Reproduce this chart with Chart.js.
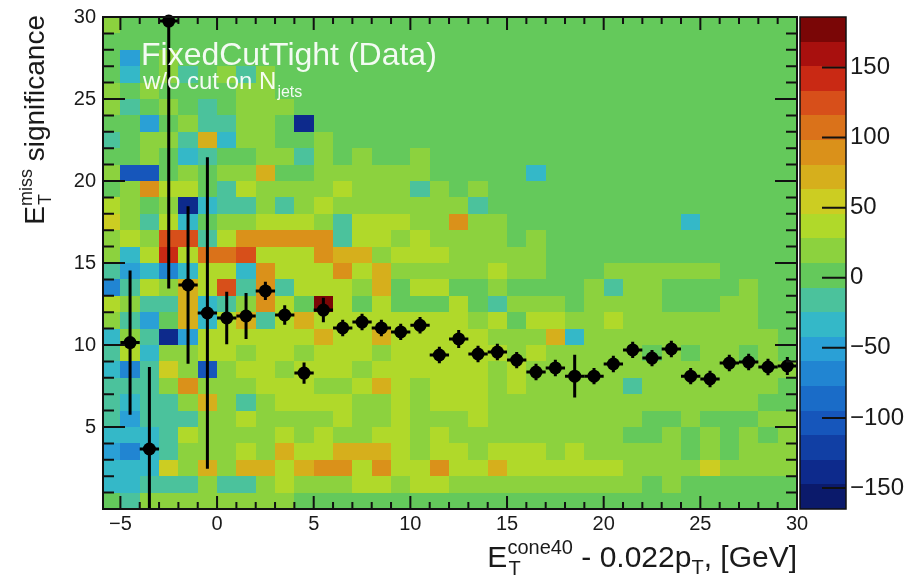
<!DOCTYPE html>
<html>
<head>
<meta charset="utf-8">
<script src="https://cdn.jsdelivr.net/npm/chart.js"></script>
<style>
  html, body { margin: 0; padding: 0; background: #fff; }
  canvas { display: block; }
</style>
</head>
<body>
<canvas id="isoChart" width="915" height="581"></canvas>
<script>
// 2D histogram, 1 GeV x-bins from -6 to 30, unit y-bins from 0 to 30
const xBinLow = -6;
const yBinHigh = 30;

// colour code per cell, top row (y 29-30) first, one char per x bin (| only for reading)
const cellRows = [
  'g.........|..........|................',
  '..........|..........|................',
  '.C.g......|..........|................',
  '.c.gt.gtg.|..........|................',
  'g.g....gg.|..........|................',
  'gt.g.t.ggg|..........|................',
  '..C.gttgg.|n.........|................',
  't.ggtocgg.|.g........|................',
  '..g.ct..gg|tg.g..g...|................',
  'gBB.g.ggo.|.gggggg...|..c.............',
  '.gOyy.tygg|ggygggtg.g|................',
  'yg.gncttgt|gygggggggt|................',
  'Ygtyc.ggyy|ygtyyyggOg|g.........c.....',
  'gygRRtyOOO|OOtyygyggg|g.g.............',
  'gcyDyrrRyy|yOoogyyygg|ggg.............',
  'tCcbcyycOy|yyOyoggggg|ygg...gggggg....',
  'btygoyRtOt|yyygo.yy..|g....gtgg....g..',
  'ygttoctgOy|.My.y...y.|tggg.gggg...gg..',
  'gtC.ocyoty|oyyyyyyyyg|y.yyggyggggggg..',
  'cgtnCyyyyy|yoyyoyyyyy|gggocgggggggggg.',
  'tycggyygyy|gyyygyyyyy|ygyggggg.g.gg.g.',
  'cbtYgBgyyg|yyygyyyyyy|gygggggggggggggg',
  'tttgOgggyy|yggyoygyyy|gygggggtggggggg.',
  'tcttgogtgy|yyyggygyyy|gggggggggggggg..',
  'tCtttggygg|ggyggygggy|gggggggg..g...gg',
  'ccctyggggy|gyggyygygg|ggggggg..g.g.g.g',
  'Cbctgggygo|yyoooygyyg|yyygyggggg.g.ggg',
  'cccYgogooy|oOOyOyyOyy|oyyyyyyggggYgggg',
  'cctttgttgy|gggyygyygg|gggggggg.g......',
  '.tgggggggg|..........|................'
];
// code -> z value (middle of the colour band)
const cellValue = {
  n: -139, B: -104, b: -69, C: -51, c: -34, t: -16, '.': 1,
  g: 19, y: 36, Y: 54, o: 71, O: 89, r: 106, R: 124, D: 141, M: 176
};

// profile (black points)
const profX = [-4.5, -3.5, -2.5, -1.5, -0.5, 0.5, 1.5, 2.5, 3.5, 4.5, 5.5, 6.5, 7.5, 8.5, 9.5, 10.5, 11.5,
  12.5, 13.5, 14.5, 15.5, 16.5, 17.5, 18.5, 19.5, 20.5, 21.5, 22.5, 23.5, 24.5, 25.5, 26.5, 27.5, 28.5, 29.5];
const profY = [10.15, 3.66, 29.75, 13.66, 11.95, 11.65, 11.77, 13.3, 11.83, 8.29, 12.13, 11.04, 11.4, 11.04, 10.8, 11.2, 9.39,
  10.37, 9.45, 9.57, 9.08, 8.35, 8.6, 8.1, 8.1, 8.84, 9.7, 9.2, 9.76, 8.1, 7.93, 8.9, 8.96, 8.66, 8.72];
const profErr = [4.4, 5.0, 16.3, 4.8, 9.5, 1.6, 1.4, 0.55, 0.6, 0.65, 0.75, 0.5, 0.5, 0.5, 0.5, 0.5, 0.5,
  0.55, 0.5, 0.5, 0.5, 0.5, 0.5, 1.3, 0.5, 0.5, 0.5, 0.5, 0.5, 0.5, 0.5, 0.5, 0.5, 0.5, 0.55];

const xTicks = [-5, 0, 5, 10, 15, 20, 25, 30];
const yTicks = [5, 10, 15, 20, 25, 30];
const zTicks = [-150, -100, -50, 0, 50, 100, 150];
const zMin = -165, zMax = 186, zLevels = 20;

const palette = [
  '#0b1a6b', '#0d2a8c', '#113fa4', '#1656bb', '#1a6cc8', '#2185d2', '#2aa0d6', '#34b8c8', '#4bc29c', '#64c95b',
  '#8cd23e', '#b0d92a', '#cccd22', '#d6af1c', '#da911a', '#da721a', '#d74f1a', '#c92914', '#a8100e', '#7a0606'
];

const FONT = '"Liberation Sans", Arial, Helvetica, sans-serif';
const minus = v => String(v).replace('-', '\u2212');

function levelOf(v) {
  const k = Math.floor((v - zMin) / (zMax - zMin) * zLevels);
  return Math.max(0, Math.min(zLevels - 1, k));
}

const heatmap = {
  id: 'heatmap',
  beforeDatasetsDraw(chart) {
    const { ctx, chartArea: a, scales: { x, y } } = chart;
    ctx.save();
    ctx.beginPath();
    ctx.rect(a.left, a.top, a.right - a.left, a.bottom - a.top);
    ctx.clip();
    cellRows.forEach((row, r) => {
      const codes = row.replace(/\|/g, '');
      const yTop = Math.round(y.getPixelForValue(yBinHigh - r));
      const yBot = Math.round(y.getPixelForValue(yBinHigh - r - 1));
      for (let c = 0; c < codes.length; c++) {
        const x0 = Math.round(x.getPixelForValue(xBinLow + c));
        const x1 = Math.round(x.getPixelForValue(xBinLow + c + 1));
        ctx.fillStyle = palette[levelOf(cellValue[codes[c]])];
        ctx.fillRect(x0, yTop, x1 - x0, yBot - yTop);
      }
    });
    ctx.restore();
    // error bars
    ctx.save();
    ctx.beginPath();
    ctx.rect(a.left, a.top - 10, a.right - a.left, a.bottom - a.top + 10);
    ctx.clip();
    ctx.strokeStyle = '#000';
    ctx.lineWidth = 3;
    profX.forEach((px, i) => {
      const cx = x.getPixelForValue(px), cy = y.getPixelForValue(profY[i]);
      ctx.beginPath();
      ctx.moveTo(x.getPixelForValue(px - 0.5), cy);
      ctx.lineTo(x.getPixelForValue(px + 0.5), cy);
      ctx.moveTo(cx, y.getPixelForValue(profY[i] - profErr[i]));
      ctx.lineTo(cx, Math.max(a.top, y.getPixelForValue(profY[i] + profErr[i])));
      ctx.stroke();
    });
    ctx.restore();
  }
};

const frame = {
  id: 'frame',
  afterDatasetsDraw(chart) {
    const { ctx, chartArea: a, scales: { x, y } } = chart;
    ctx.save();
    ctx.strokeStyle = '#111';
    ctx.lineWidth = 2;
    ctx.beginPath();
    for (let v = -5; v <= 30; v++) {
      const px = x.getPixelForValue(v);
      const len = v % 5 === 0 ? 13 : 7;
      ctx.moveTo(px, a.bottom); ctx.lineTo(px, a.bottom - len);
      ctx.moveTo(px, a.top); ctx.lineTo(px, a.top + len);
    }
    for (let v = 1; v < 30; v++) {
      const py = y.getPixelForValue(v);
      const len = v % 5 === 0 ? 22 : 11;
      ctx.moveTo(a.left, py); ctx.lineTo(a.left + len, py);
      ctx.moveTo(a.right, py); ctx.lineTo(a.right - len, py);
    }
    ctx.stroke();
    ctx.strokeRect(a.left, a.top, a.right - a.left, a.bottom - a.top);
    ctx.restore();
  }
};

const colorBar = {
  id: 'colorBar',
  afterDraw(chart) {
    const { ctx, chartArea: a, scales: { z } } = chart;
    const left = a.right + 3, right = a.right + 49;
    const step = (zMax - zMin) / zLevels;
    ctx.save();
    for (let i = 0; i < zLevels; i++) {
      const t = Math.round(z.getPixelForValue(zMin + (i + 1) * step));
      const b = Math.round(z.getPixelForValue(zMin + i * step));
      ctx.fillStyle = palette[i];
      ctx.fillRect(left, t, right - left, b - t);
    }
    ctx.strokeStyle = '#111';
    ctx.lineWidth = 1.5;
    ctx.strokeRect(left, z.getPixelForValue(zMax), right - left, z.getPixelForValue(zMin) - z.getPixelForValue(zMax));
    ctx.lineWidth = 2;
    ctx.beginPath();
    zTicks.forEach(v => {
      const py = z.getPixelForValue(v);
      ctx.moveTo(right - 24, py); ctx.lineTo(right, py);
    });
    ctx.stroke();
    ctx.restore();
  }
};

const labels = {
  id: 'labels',
  afterDraw(chart) {
    const { ctx, chartArea: a } = chart;
    ctx.save();
    ctx.textBaseline = 'alphabetic';
    ctx.textAlign = 'left';

    // legend text inside the frame
    ctx.fillStyle = 'rgba(255,255,255,0.92)';
    ctx.font = `32px ${FONT}`;
    ctx.fillText('FixedCutTight (Data)', 141, 65);
    ctx.font = `24px ${FONT}`;
    ctx.fillText('w/o cut on N', 143, 89);
    const wN = ctx.measureText('w/o cut on N').width;
    ctx.font = `16px ${FONT}`;
    ctx.fillText('jets', 143 + wN + 1, 97);

    ctx.fillStyle = '#1a1a1a';
    // y title: E_T^miss significance
    const big = 28, small = 18;
    ctx.font = `${big}px ${FONT}`;
    const wE = ctx.measureText('E').width;
    const wSig = ctx.measureText(' significance').width;
    ctx.font = `${small}px ${FONT}`;
    const wScr = Math.max(ctx.measureText('miss').width, ctx.measureText('T').width);
    const total = wE + wScr + wSig;
    ctx.save();
    ctx.translate(44, 15 + total);
    ctx.rotate(-Math.PI / 2);
    ctx.font = `${big}px ${FONT}`;
    ctx.fillText('E', 0, 0);
    ctx.font = `${small}px ${FONT}`;
    ctx.fillText('miss', wE, -12);
    ctx.fillText('T', wE + 1, 7);
    ctx.font = `${big}px ${FONT}`;
    ctx.fillText(' significance', wE + wScr, 0);
    ctx.restore();

    // x title: E_T^cone40 - 0.022p_T, [GeV]
    const xb = 30, xs = 20;
    const runs = [
      { t: 'E', s: xb, dy: 0 },
      { t: 'cone40', s: xs, dy: -13, stackT: true },
      { t: ' - 0.022p', s: xb, dy: 0 },
      { t: 'T', s: xs, dy: 7 },
      { t: ', [GeV]', s: xb, dy: 0 }
    ];
    let width = 0;
    runs.forEach(r => { ctx.font = `${r.s}px ${FONT}`; r.w = ctx.measureText(r.t).width; width += r.w; });
    let cx = a.right - width;
    const base = 567;
    runs.forEach(r => {
      ctx.font = `${r.s}px ${FONT}`;
      ctx.fillText(r.t, cx, base + r.dy);
      if (r.stackT) ctx.fillText('T', cx + 1, base + 8);
      cx += r.w;
    });
    ctx.restore();
  }
};

new Chart(document.getElementById('isoChart'), {
  type: 'scatter',
  data: {
    datasets: [{
      data: profX.map((v, i) => ({ x: v, y: profY[i] })),
      pointRadius: 6.5,
      pointHoverRadius: 6.5,
      pointBackgroundColor: '#000',
      pointBorderWidth: 0,
      clip: false
    }]
  },
  options: {
    responsive: false,
    devicePixelRatio: 1,
    animation: false,
    events: [],
    layout: { padding: { top: 17, left: 0, right: 0, bottom: 0 } },
    plugins: { legend: { display: false }, tooltip: { enabled: false } },
    scales: {
      x: {
        type: 'linear', position: 'bottom', min: -5.9, max: 30,
        afterBuildTicks: s => { s.ticks = xTicks.map(v => ({ value: v })); },
        afterFit: s => { s.height = 72; },
        grid: { display: false, drawTicks: false },
        border: { display: false },
        ticks: { autoSkip: false, maxRotation: 0, padding: 3, color: '#1a1a1a',
          font: { family: FONT, size: 20 }, callback: v => minus(v) }
      },
      y: {
        type: 'linear', position: 'left', min: 0, max: 30,
        afterBuildTicks: s => { s.ticks = yTicks.map(v => ({ value: v })); },
        afterFit: s => { s.width = 103; },
        grid: { display: false, drawTicks: true, tickLength: 4 },
        border: { display: false },
        ticks: { autoSkip: false, padding: 3, color: '#1a1a1a',
          font: { family: FONT, size: 20 } }
      },
      z: {
        type: 'linear', axis: 'y', position: 'right', min: zMin, max: zMax,
        afterBuildTicks: s => { s.ticks = zTicks.map(v => ({ value: v })); },
        afterFit: s => { s.width = 118; },
        grid: { display: false, drawTicks: true, tickLength: 51 },
        border: { display: false },
        ticks: { autoSkip: false, padding: 2, color: '#1a1a1a',
          font: { family: FONT, size: 24 }, callback: v => minus(v) }
      }
    }
  },
  plugins: [heatmap, frame, colorBar, labels]
});
</script>
</body>
</html>
